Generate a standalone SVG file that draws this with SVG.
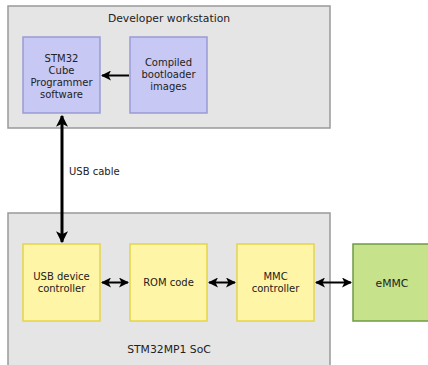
<svg xmlns="http://www.w3.org/2000/svg" width="428" height="365" viewBox="0 0 428 365">
<defs>
<style>
text{font-family:"DejaVu Sans",sans-serif;font-size:10px;fill:#222;text-anchor:middle}
.t{font-size:10.8px}
.grp{fill:#e5e5e5;stroke:#999;stroke-width:1.5}
.pur{fill:#c8c8f4;stroke:#9a9ad6;stroke-width:1.5}
.yel{fill:#fff5a6;stroke:#e3d44a;stroke-width:1.5}
.grn{fill:#c6e28a;stroke:#6f9a44;stroke-width:1.5}
.ln{stroke:#000;fill:none}
</style>
<marker id="ah" viewBox="0 0 10 10" refX="9" refY="5" markerWidth="5" markerHeight="5" orient="auto-start-reverse" markerUnits="strokeWidth">
<path d="M0,0 L10,5 L0,10 L2.5,5 Z" fill="#000"/>
</marker>
<marker id="ah2" viewBox="0 0 10 10" refX="9" refY="5" markerWidth="4" markerHeight="4" orient="auto-start-reverse" markerUnits="strokeWidth">
<path d="M0,0 L10,5 L0,10 L2.5,5 Z" fill="#000"/>
</marker>
</defs>
<g id="workstation">
<rect class="grp" x="8" y="6" width="322" height="122"/>
<text class="t" x="169" y="22">Developer workstation</text>
</g>
<g id="soc">
<rect class="grp" x="8" y="213" width="322" height="160"/>
<text class="t" x="169" y="352.5">STM32MP1 SoC</text>
</g>
<g id="cube">
<rect class="pur" x="23" y="37" width="77" height="76"/>
<text x="61.5" y="62">STM32</text>
<text x="61.5" y="74">Cube</text>
<text x="61.5" y="86">Programmer</text>
<text x="61.5" y="98">software</text>
</g>
<g id="images">
<rect class="pur" x="130" y="37" width="77" height="76"/>
<text x="168.5" y="66">Compiled</text>
<text x="168.5" y="78">bootloader</text>
<text x="168.5" y="90">images</text>
</g>
<g id="usb">
<rect class="yel" x="23" y="244" width="77" height="77"/>
<text x="61.5" y="280">USB device</text>
<text x="61.5" y="292">controller</text>
</g>
<g id="rom">
<rect class="yel" x="130" y="244" width="77" height="77"/>
<text x="168.5" y="286">ROM code</text>
</g>
<g id="mmc">
<rect class="yel" x="237" y="244" width="77" height="77"/>
<text x="275.5" y="280">MMC</text>
<text x="275.5" y="292">controller</text>
</g>
<g id="emmc">
<rect class="grn" x="353" y="244" width="78" height="77"/>
<text class="t" x="392" y="286.5">eMMC</text>
</g>
<g id="connectors">
<line class="ln" x1="129" y1="75.5" x2="102" y2="75.5" stroke-width="2" marker-end="url(#ah)"/>
<line class="ln" x1="62" y1="116" x2="62" y2="242" stroke-width="3" marker-start="url(#ah2)" marker-end="url(#ah2)"/>
<text x="69" y="175" style="text-anchor:start">USB cable</text>
<line class="ln" x1="102" y1="282.5" x2="128" y2="282.5" stroke-width="2" marker-start="url(#ah)" marker-end="url(#ah)"/>
<line class="ln" x1="209" y1="282.5" x2="235" y2="282.5" stroke-width="2" marker-start="url(#ah)" marker-end="url(#ah)"/>
<line class="ln" x1="316" y1="282.5" x2="351" y2="282.5" stroke-width="2" marker-start="url(#ah)" marker-end="url(#ah)"/>
</g>
</svg>
